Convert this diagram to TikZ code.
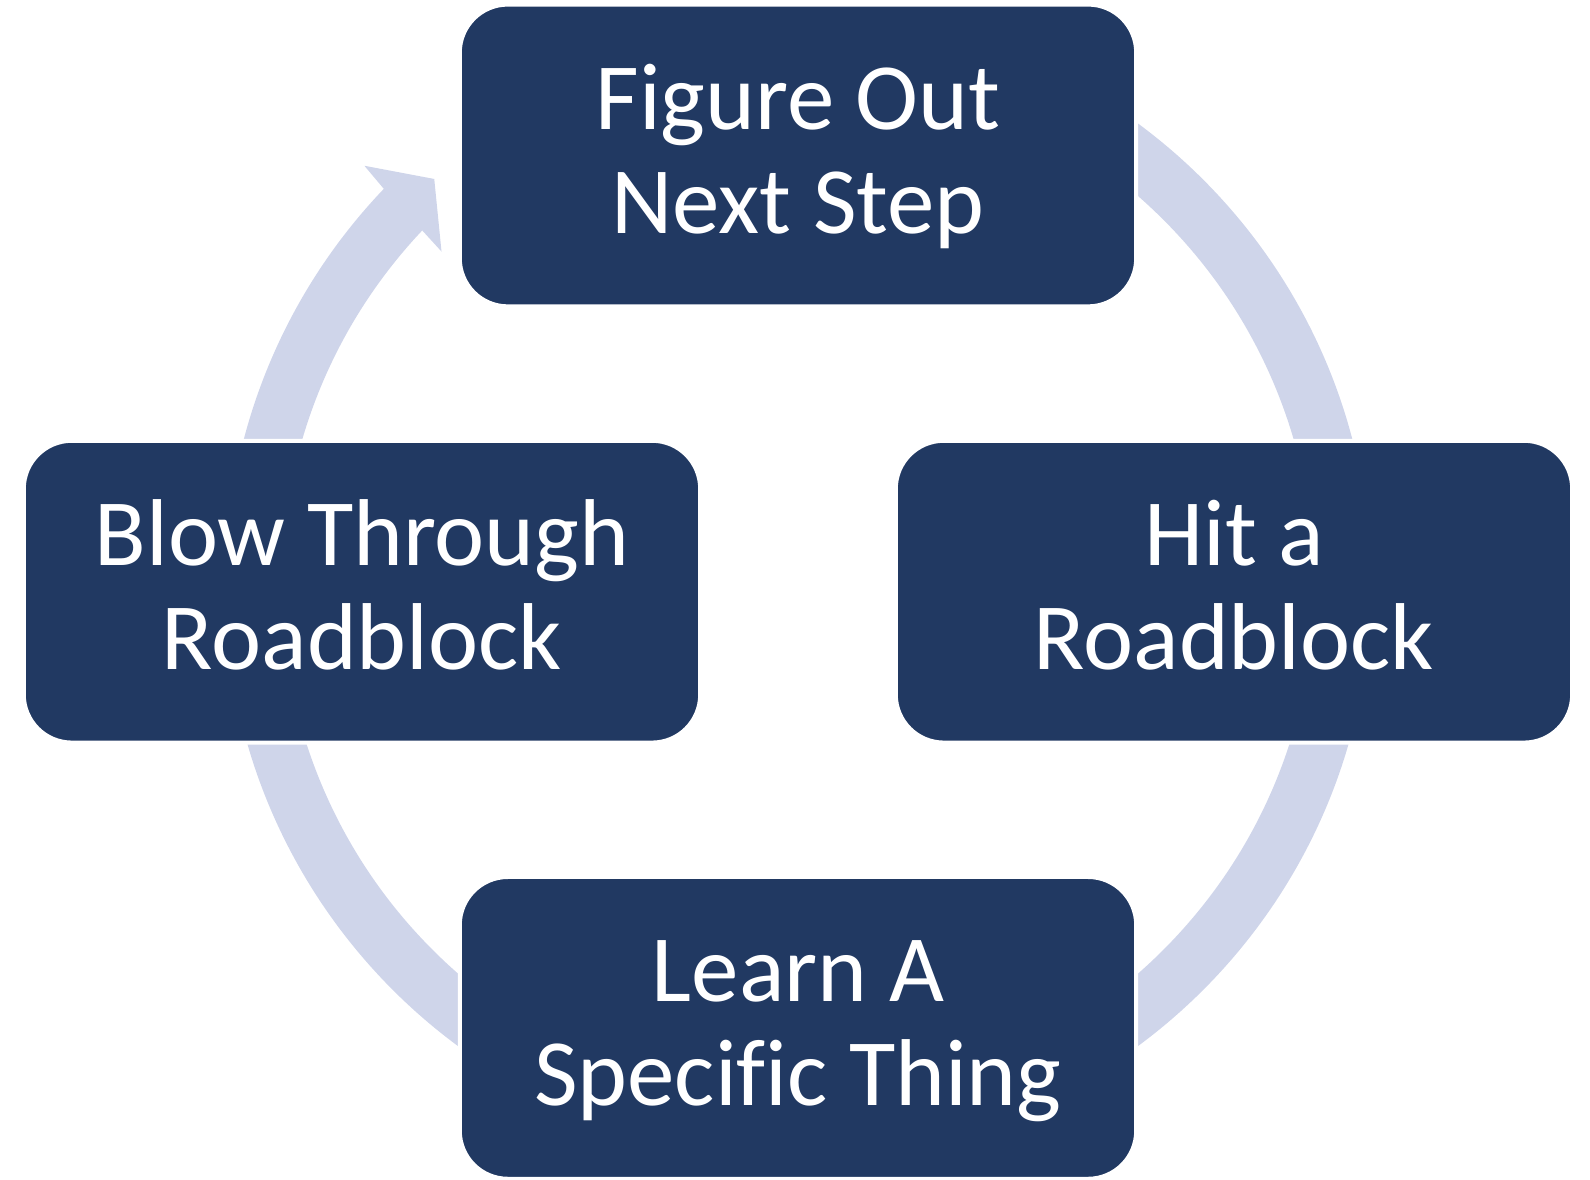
\documentclass[tikz,border=0pt]{standalone}
\usepackage{fontspec}
\setmainfont{Carlito}[Ligatures=NoCommon]
\usepackage{tikz}
\usetikzlibrary{positioning,calc}
\definecolor{StepNavy}{RGB}{33,57,98}
\definecolor{RingBlue}{RGB}{207,213,234}
\newcommand{\upstrut}{\rule{0pt}{26.7pt}}
\newcommand{\downstrut}{\rule[-12pt]{0pt}{12pt}}
\tikzset{
  stepbox/.style={draw=white,fill=StepNavy,line width=0.04cm,rounded corners=0.48cm,
    minimum width=6.76cm,minimum height=3.016cm,align=center,text=white,
    font=\fontsize{27}{29.6}\selectfont},
  ring/.style={fill=RingBlue},
}

\begin{document}
\begin{tikzpicture}[x=0.01cm,y=0.01cm]
\useasboundingbox (-798,-595.2) rectangle (792,584.8);
\coordinate (ctr) at (0,0);
\fill[ring] (90:573) arc[start angle=90,end angle=-223.71,radius=573]
  -- (135.98:603) -- (131.87:545) -- (136.93:488)
  -- (136.68:516.5) arc[start angle=-223.32,end angle=90,radius=516.5] -- cycle;
\node[stepbox] (figure) at (0,429.3) {\upstrut Figure Out\\Next Step\downstrut};
\node[stepbox] (hit) at (436,-6.9) {\upstrut Hit a\\Roadblock\downstrut};
\node[stepbox] (learn) at (0,-443.1) {\upstrut Learn A\\Specific Thing\downstrut};
\node[stepbox] (blow) at (-436,-6.9) {\upstrut Blow Through\\Roadblock\downstrut};
\end{tikzpicture}
\end{document}
